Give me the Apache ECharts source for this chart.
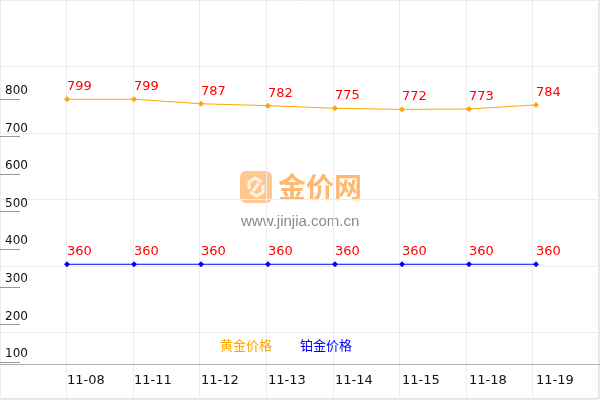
<!DOCTYPE html>
<html><head><meta charset="utf-8">
<script src="https://cdn.jsdelivr.net/npm/echarts@6/dist/echarts.min.js"></script>
<style>html,body{margin:0;padding:0;background:#fff}#c{width:600px;height:400px}</style>
</head><body><div id="c"></div>
<script>
const categories = ['11-08','11-11','11-12','11-13','11-14','11-15','11-18','11-19'];
const goldPrices = [799, 799, 787, 782, 775, 772, 773, 784];
const platinumPrices = [360, 360, 360, 360, 360, 360, 360, 360];
const yTickValues = [100, 200, 300, 400, 500, 600, 700, 800];
const seriesNames = ['黄金价格', '铂金价格'];

const chart = echarts.init(document.getElementById('c'), null, {renderer: 'canvas'});
const font = 'DejaVu Sans, Verdana, sans-serif';
chart.setOption({
  animation: false,
  backgroundColor: '#fff',
  grid: [
    {left: 67, right: 64, top: 0, bottom: 38},
    {left: 0, right: 1, top: 0, bottom: 1, show: true, borderColor: '#c4c4c4', borderWidth: 1},
    {left: 0, right: 0, top: 0, bottom: 36}
  ],
  xAxis: [
    {gridIndex: 0, type: 'category', data: categories, boundaryGap: false, offset: 2,
     axisLine: {show: false}, axisTick: {show: false}, splitLine: {show: false},
     axisLabel: {align: 'left', margin: 10, fontSize: 13, color: '#111', fontFamily: font}},
    {gridIndex: 1, type: 'value', min: 0, max: 9, interval: 1,
     axisLine: {show: false}, axisTick: {show: false}, axisLabel: {show: false},
     splitLine: {lineStyle: {color: '#ececec', width: 1}}},
    {gridIndex: 2, type: 'value', min: 0, max: 1,
     axisLine: {show: true, lineStyle: {color: '#b0b0b0', width: 1}}, axisTick: {show: false},
     axisLabel: {show: false}, splitLine: {show: false}}
  ],
  yAxis: [
    {gridIndex: 0, type: 'value', min: 100, max: 1063, offset: 67,
     axisLine: {show: false}, splitLine: {show: false},
     axisTick: {show: true, inside: true, length: 20, customValues: yTickValues, lineStyle: {color: '#999'}},
     axisLabel: {inside: true, align: 'left', verticalAlign: 'bottom', margin: 5, padding: [0,0,2,0],
       fontSize: 12, color: '#111', fontFamily: font, customValues: yTickValues}},
    {gridIndex: 1, type: 'value', min: 0, max: 6, interval: 1, inverse: true,
     axisLine: {show: false}, axisTick: {show: false}, axisLabel: {show: false},
     splitLine: {lineStyle: {color: '#ececec', width: 1}}},
    {gridIndex: 2, type: 'value', show: false}
  ],
  legend: {
    left: 210, top: 334, itemWidth: 0, itemHeight: 0, itemGap: 23,
    textStyle: {fontSize: 13, fontFamily: 'Noto Sans CJK SC, sans-serif'},
    data: [
      {name: seriesNames[0], icon: 'none', textStyle: {color: '#FFA500'}},
      {name: seriesNames[1], icon: 'none', textStyle: {color: '#0000FF'}}
    ]
  },
  graphic: [
    {type: 'group', left: 240, top: 171, silent: true, z: 0, children: [
      {type: 'rect', shape: {x: 0, y: 0, width: 32, height: 32, r: 6}, style: {fill: '#FFC88E'}},
      {type: 'polyline', shape: {points: [[9,18],[9,11],[15,7],[22,11]]}, style: {stroke: '#FFF3E3', lineWidth: 3, fill: null}},
      {type: 'polyline', shape: {points: [[23,14],[23,21],[17,25],[10,21]]}, style: {stroke: '#FFF3E3', lineWidth: 3, fill: null}},
      {type: 'line', shape: {x1: 19, y1: 12, x2: 13, y2: 20}, style: {stroke: '#FFF3E3', lineWidth: 3}},
      {type: 'text', x: 38, y: 16, style: {text: '金价网', font: 'bold 28px "Noto Sans CJK SC", sans-serif', fill: '#FFB870', textVerticalAlign: 'middle'}},
      {type: 'text', x: 1, y: 51, style: {text: 'www.jinjia.com.cn', font: '15px "Liberation Sans", Arial, sans-serif', fill: '#8a8a8a', textVerticalAlign: 'middle'}}
    ]}
  ],
  series: [
    {name: seriesNames[0], type: 'line', xAxisIndex: 0, yAxisIndex: 0, data: goldPrices,
     color: '#FFA500', lineStyle: {width: 1, color: '#FFA500'}, symbol: 'diamond', symbolSize: 6,
     itemStyle: {color: '#FFA500'},
     label: {show: true, position: 'top', align: 'left', distance: 3, color: '#FF0000', fontSize: 13, fontFamily: font}},
    {name: seriesNames[1], type: 'line', xAxisIndex: 0, yAxisIndex: 0, data: platinumPrices,
     color: '#0000FF', lineStyle: {width: 1, color: '#0000FF'}, symbol: 'diamond', symbolSize: 6,
     itemStyle: {color: '#0000FF'},
     label: {show: true, position: 'top', align: 'left', distance: 3, color: '#FF0000', fontSize: 13, fontFamily: font}}
  ]
});
</script></body></html>
